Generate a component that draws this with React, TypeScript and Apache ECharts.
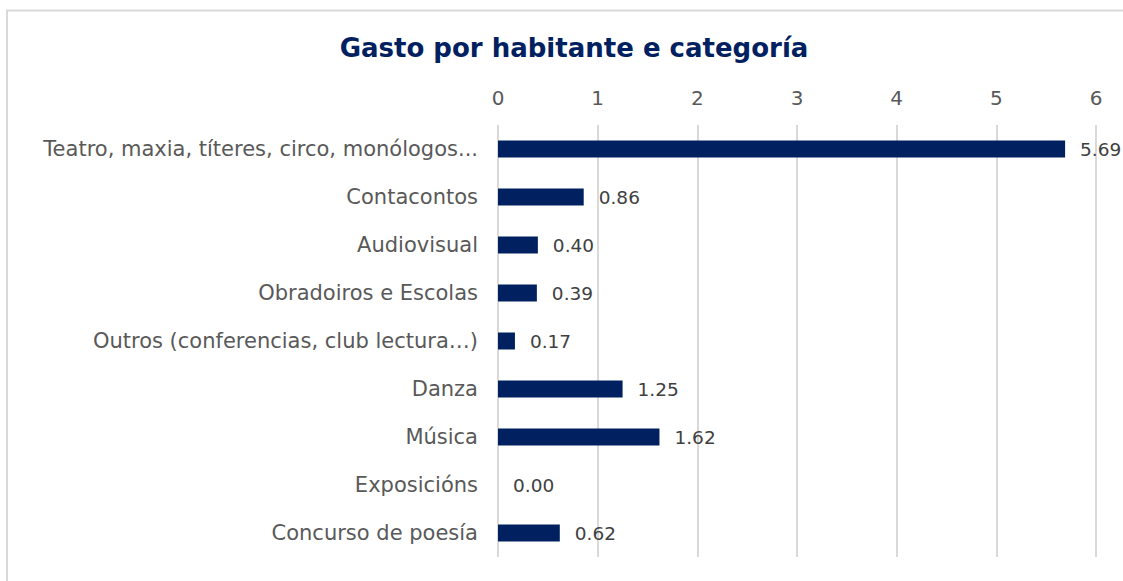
import React, { useEffect, useRef } from "react";
import * as echarts from "echarts";

const categories = [
  "Teatro, maxia, títeres, circo, monólogos...",
  "Contacontos",
  "Audiovisual",
  "Obradoiros e Escolas",
  "Outros (conferencias, club lectura…)",
  "Danza",
  "Música",
  "Exposicións",
  "Concurso de poesía",
];
const values = [5.69, 0.86, 0.4, 0.39, 0.17, 1.25, 1.62, 0.0, 0.62];
const title = "Gasto por habitante e categoría";

export default function App() {
  const ref = useRef<HTMLDivElement>(null);
  useEffect(() => {
    if (!ref.current) return;
    const chart = echarts.init(ref.current, null, { renderer: "svg" });
    chart.setOption({
      animation: false,
      backgroundColor: "#ffffff",
      graphic: [
        {
          type: "rect",
          shape: { x: 7, y: 10.5, width: 1300, height: 800 },
          style: { fill: "none", stroke: "#d9d9d9", lineWidth: 2 },
          silent: true,
        },
      ],
      title: {
        text: title,
        left: 569,
        top: 30,
        textAlign: "center",
        textStyle: {
          fontFamily: "DejaVu Sans",
          fontWeight: "bold",
          fontSize: 26,
          color: "#002060",
        },
      },
      grid: { left: 498, right: 27, top: 125, bottom: 24 },
      xAxis: {
        type: "value",
        position: "top",
        min: 0,
        max: 6,
        interval: 1,
        axisLine: { show: false },
        axisTick: { show: false },
        axisLabel: {
          fontFamily: "DejaVu Sans",
          fontSize: 20,
          color: "#595959",
          margin: 17,
        },
        splitLine: { show: true, lineStyle: { color: "#d9d9d9", width: 2 } },
      },
      yAxis: {
        type: "category",
        inverse: true,
        data: categories,
        axisLine: { show: false },
        axisTick: { show: false },
        axisLabel: {
          fontFamily: "DejaVu Sans",
          fontSize: 21,
          color: "#595959",
          margin: 20,
        },
      },
      series: [
        {
          type: "bar",
          data: values,
          barWidth: 17,
          itemStyle: { color: "#002060" },
          label: {
            show: true,
            position: "right",
            distance: 15,
            formatter: (p: any) => Number(p.value).toFixed(2),
            fontFamily: "DejaVu Sans",
            fontSize: 18.5,
            color: "#404040",
          },
        },
      ],
    });
    return () => chart.dispose();
  }, []);
  return (
    <div
      ref={ref}
      style={{ position: "absolute", left: 0, top: 0, width: 1123, height: 581 }}
    />
  );
}
